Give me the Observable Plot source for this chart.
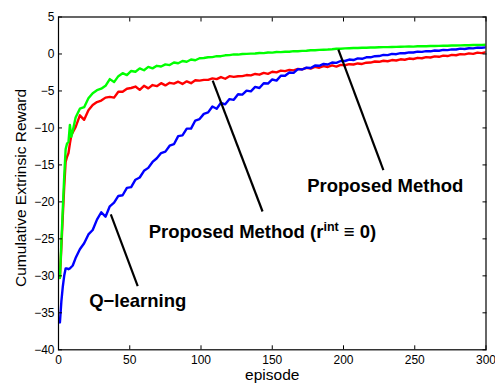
<!DOCTYPE html>
<html>
<head>
<meta charset="utf-8">
<script src="https://cdn.jsdelivr.net/npm/d3@7"></script>
<script src="https://cdn.jsdelivr.net/npm/@observablehq/plot@0.6"></script>
<style>
  html, body { margin: 0; padding: 0; background: white; }
  #chart { width: 495px; height: 383px; }
</style>
</head>
<body>
<div id="chart"></div>
<script>
// ---- data ----
const episodes = [1,2,3,4,5,6,7,8,9,10,
  12,15,18,21,24,27,30,33,36,39,42,45,48,51,54,57,60,63,66,69,72,75,78,81,84,87,90,93,96,99,
  102,105,108,111,114,117,120,123,126,129,132,135,138,141,144,147,150,153,156,159,162,165,168,171,174,177,180,183,186,189,192,195,198,
  201,204,207,210,213,216,219,222,225,228,231,234,237,240,243,246,249,252,255,258,261,264,267,270,273,276,279,282,285,288,291,294,297,300];

// green: Proposed Method
const proposed = [-30.3,-25.6,-21.0,-16.6,-12.9,-12.1,-11.9,-9.6,-11.2,-10.4,
  -8.6,-7.4,-7.2,-6.0,-5.3,-4.9,-4.7,-4.3,-3.4,-3.8,-3.0,-2.6,-2.85,-2.3,-2.4,-1.95,-2.2,-1.75,-1.95,-1.6,-1.7,-1.4,-1.5,-1.15,-1.25,-0.95,-1.05,-0.75,-0.85,-0.58,
  -0.55,-0.45,-0.42,-0.3,-0.3,-0.18,-0.16,-0.05,-0.08,0.0,0.02,0.05,0.06,0.14,0.12,0.2,0.18,0.26,0.25,0.3,0.3,0.38,0.36,0.42,0.44,0.5,0.5,0.56,0.58,0.6,0.64,0.7,0.7,
  0.76,0.78,0.8,0.8,0.85,0.84,0.88,0.87,0.91,0.92,0.92,0.95,0.96,0.98,0.99,1.02,1.0,1.04,1.05,1.05,1.08,1.08,1.1,1.12,1.12,1.15,1.15,1.17,1.19,1.19,1.21,1.22,1.23,1.25];

// red: Proposed Method (r^int = 0)
const proposedNoInt = [-30.3,-26.2,-22.0,-18.0,-14.6,-13.9,-13.4,-12.1,-11.0,-10.6,
  -9.9,-8.3,-8.9,-7.6,-6.9,-6.5,-6.3,-5.9,-5.8,-5.9,-5.1,-5.1,-4.7,-4.6,-4.4,-4.85,-4.3,-4.65,-4.2,-4.35,-3.95,-4.25,-3.9,-4.0,-3.75,-4.05,-3.7,-3.95,-3.55,-3.6,
  -3.5,-3.5,-3.3,-3.4,-3.12,-3.35,-3.0,-3.1,-3.02,-3.0,-2.85,-2.9,-2.7,-2.8,-2.55,-2.68,-2.4,-2.48,-2.25,-2.32,-2.15,-2.22,-2.02,-2.08,-1.88,-1.98,-1.75,-1.86,-1.65,-1.76,-1.55,-1.7,-1.48,
  -1.52,-1.38,-1.42,-1.28,-1.35,-1.18,-1.16,-1.02,-1.06,-0.92,-0.98,-0.82,-0.88,-0.72,-0.78,-0.62,-0.68,-0.52,-0.58,-0.42,-0.48,-0.33,-0.38,-0.22,-0.28,-0.12,-0.17,-0.03,-0.06,0.08,0.02,0.18,0.12,0.25];

// blue: Q-learning
const qLearning = [-36.3,-33.5,-31.5,-30.0,-29.0,-29.0,-29.1,-29.0,-28.8,-28.6,
  -27.6,-26.4,-25.6,-24.4,-23.8,-22.4,-21.4,-22.0,-20.6,-20.1,-19.2,-19.1,-18.1,-18.0,-17.0,-16.7,-15.8,-15.4,-14.6,-14.1,-13.4,-13.2,-12.4,-12.2,-11.1,-11.0,-10.1,-10.1,-9.0,-8.8,
  -8.1,-7.9,-7.1,-7.4,-6.6,-6.8,-6.1,-6.2,-5.45,-5.5,-4.95,-5.05,-4.45,-4.6,-3.95,-4.0,-3.45,-3.6,-2.95,-2.95,-2.5,-2.55,-2.05,-2.1,-1.85,-1.9,-1.55,-1.6,-1.35,-1.42,-1.15,-1.2,-0.95,
  -0.95,-0.75,-0.82,-0.6,-0.65,-0.45,-0.45,-0.3,-0.28,-0.12,-0.15,0.02,-0.03,0.12,0.1,0.22,0.2,0.32,0.28,0.38,0.36,0.47,0.44,0.55,0.52,0.62,0.6,0.72,0.68,0.78,0.76,0.86,0.84,0.9];

const xTicks = [0, 50, 100, 150, 200, 250, 300];
const yTicks = [-40, -35, -30, -25, -20, -15, -10, -5, 0, 5];

// annotation text and pointer lines, in data coordinates
const annoLabels = ["Proposed Method", "Proposed Method (r^int ≡ 0)", "Q−learning"];
const annoTextX = [174.5, 63.3, 21.5];
const annoTextY = [-18.7, -24.9, -34.2];
const pointerX1 = [196.4, 108.2, 36.7];
const pointerY1 = [0.6, -3.6, -21.7];
const pointerX2 = [228.0, 143.2, 55.6];
const pointerY2 = [-15.7, -21.3, -31.4];

// ---- tables ----
const toRows = (vals) => episodes.map((e, i) => ({episode: e, value: vals[i]}));
const annos = annoLabels.map((t, i) => ({text: t, x: annoTextX[i], y: annoTextY[i]}));
const pointers = annoLabels.map((t, i) => ({x1: pointerX1[i], y1: pointerY1[i], x2: pointerX2[i], y2: pointerY2[i]}));

const font = "'Liberation Sans', Arial, Helvetica, sans-serif";

const chart = Plot.plot({
  width: 495,
  height: 383,
  marginLeft: 58,
  marginRight: 9.5,
  marginTop: 16.5,
  marginBottom: 33.7,
  style: {fontFamily: font, fontSize: "12px", background: "white", color: "black", overflow: "visible"},
  x: {domain: [0, 300]},
  y: {domain: [-40, 5]},
  marks: [
    Plot.line(toRows(proposedNoInt), {x: "episode", y: "value", stroke: "#ff0000", strokeWidth: 2.4, clip: true}),
    Plot.line(toRows(proposed), {x: "episode", y: "value", stroke: "#00ff00", strokeWidth: 2.4, clip: true}),
    Plot.line(toRows(qLearning), {x: "episode", y: "value", stroke: "#0000ff", strokeWidth: 2.4, clip: true}),
    Plot.link(pointers, {x1: "x1", y1: "y1", x2: "x2", y2: "y2", stroke: "black", strokeWidth: 2.2}),
    Plot.text(annos, {x: "x", y: "y", text: "text", textAnchor: "start", lineAnchor: "bottom",
      fontSize: 18.5, fontWeight: "bold", fill: "black"}),
    // inward ticks on all four sides (outward ticks shifted inside the frame)
    Plot.axisX(xTicks, {anchor: "bottom", tickSize: 4, dy: -4, fill: "none", label: null}),
    Plot.axisX(xTicks, {anchor: "top", tickSize: 4, dy: 4, fill: "none", label: null}),
    Plot.axisY(yTicks, {anchor: "left", tickSize: 4, dx: 4, fill: "none", label: null}),
    Plot.axisY(yTicks, {anchor: "right", tickSize: 4, dx: -4, fill: "none", label: null}),
    // tick labels
    Plot.axisX(xTicks, {anchor: "bottom", tickSize: 0, tickPadding: 6, fontSize: 12, label: null}),
    Plot.axisY(yTicks, {anchor: "left", tickSize: 0, tickPadding: 4, fontSize: 12, label: null}),
    Plot.frame({stroke: "black", strokeWidth: 1.2}),
    // axis titles
    Plot.text(["episode"], {frameAnchor: "bottom", lineAnchor: "bottom", dy: 30, fontSize: 15.5, fill: "black"}),
    Plot.text(["Cumulative Extrinsic Reward"], {frameAnchor: "left", textAnchor: "middle", lineAnchor: "bottom",
      rotate: -90, dx: -33, dy: 4.5, fontSize: 15.5, fill: "black"})
  ]
});

// superscript for r^int
chart.querySelectorAll("text").forEach((t) => {
  if (t.textContent.includes("r^int")) {
    const tsp = t.querySelector("tspan");
    const target = tsp || t;
    target.innerHTML = 'Proposed Method (r<tspan dy="-7" font-size="12.5">int</tspan><tspan dy="7" font-size="18.5"> ≡ 0)</tspan>';
  }
});

document.getElementById("chart").appendChild(chart);
</script>
</body>
</html>
